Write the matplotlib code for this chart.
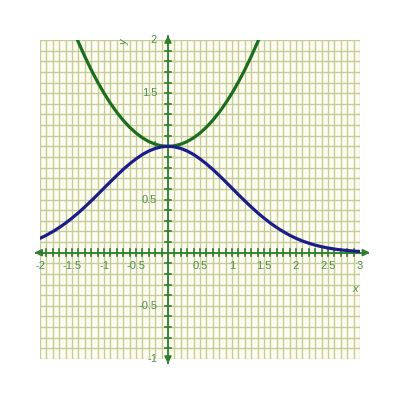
import numpy as np
import matplotlib
matplotlib.use("Agg")
import matplotlib.pyplot as plt

plt.rcParams['font.family'] = ['Liberation Sans', 'DejaVu Sans']

# Blue curve
blue_x = [-2.0, -1.9, -1.8, -1.7, -1.6, -1.5, -1.4, -1.3, -1.2, -1.1, -1.0,
          -0.9, -0.8, -0.7, -0.6, -0.5, -0.4, -0.3, -0.2, -0.1, 0.0,
          0.1, 0.2, 0.3, 0.4, 0.5, 0.6, 0.7, 0.8, 0.9, 1.0,
          1.1, 1.2, 1.3, 1.4, 1.5, 1.6, 1.7, 1.8, 1.9, 2.0,
          2.1, 2.2, 2.3, 2.4, 2.5, 2.6, 2.7, 2.8, 2.9, 3.0]
blue_y = [0.135, 0.164, 0.198, 0.236, 0.278, 0.325, 0.375, 0.430, 0.487, 0.546, 0.607,
          0.667, 0.726, 0.783, 0.835, 0.882, 0.923, 0.956, 0.980, 0.995, 1.000,
          0.995, 0.980, 0.956, 0.923, 0.882, 0.835, 0.783, 0.726, 0.667, 0.607,
          0.546, 0.487, 0.430, 0.375, 0.325, 0.278, 0.236, 0.198, 0.164, 0.135,
          0.110, 0.089, 0.071, 0.056, 0.044, 0.034, 0.026, 0.020, 0.015, 0.011]

# Green curve
green_x = [-1.42, -1.4, -1.3, -1.2, -1.1, -1.0, -0.9, -0.8, -0.7, -0.6, -0.5, -0.4, -0.3, -0.2, -0.1, 0.0,
           0.1, 0.2, 0.3, 0.4, 0.5, 0.6, 0.7, 0.8, 0.9, 1.0, 1.1, 1.2, 1.3, 1.4, 1.42]
green_y = [2.008, 1.98, 1.845, 1.72, 1.605, 1.5, 1.405, 1.32, 1.245, 1.18, 1.125, 1.08, 1.045, 1.02, 1.005, 1.0,
           1.005, 1.02, 1.045, 1.08, 1.125, 1.18, 1.245, 1.32, 1.405, 1.5, 1.605, 1.72, 1.845, 1.98, 2.008]

x_ticks = [-2, -1.5, -1, -0.5, 0.5, 1, 1.5, 2, 2.5, 3]
x_tick_labels = ["-2", "-1.5", "-1", "-0.5", "0.5", "1", "1.5", "2", "2.5", "3"]
y_ticks = [-1, -0.5, 0.5, 1, 1.5, 2]
y_tick_labels = ["-1", "-0.5", "0.5", "1", "1.5", "2"]

XMIN, XMAX, YMIN, YMAX = -2, 3, -1, 2

grid_c = '#c6cc98'
axis_c = '#2f7d2f'
label_c = '#4f8f4f'

fig = plt.figure(figsize=(4, 4), dpi=100)
ax = fig.add_axes([0.1, 0.1025, 0.8, 0.7975])
ax.set_facecolor('#fdfdf2')
ax.set_xlim(XMIN, XMAX)
ax.set_ylim(YMIN, YMAX)
for s in ax.spines.values():
    s.set_visible(False)
ax.set_xticks([])
ax.set_yticks([])

# grid every 0.1
for gx in np.arange(XMIN, XMAX + 0.001, 0.1):
    ax.axvline(gx, color=grid_c, lw=1.0, zorder=1)
for gy in np.arange(YMIN, YMAX + 0.001, 0.1):
    ax.axhline(gy, color=grid_c, lw=1.0, zorder=1)

# axes with arrows
ax.plot([XMIN - 0.06, XMAX + 0.12], [0, 0], color=axis_c, lw=1.3, clip_on=False, zorder=3)
ax.plot([0, 0], [YMIN - 0.04, YMAX + 0.04], color=axis_c, lw=1.3, clip_on=False, zorder=3)
ax.annotate('', xy=(XMAX + 0.2, 0), xytext=(XMAX + 0.05, 0),
            arrowprops=dict(arrowstyle='-|>', color=axis_c, lw=1.3, mutation_scale=10),
            annotation_clip=False, zorder=3)
ax.annotate('', xy=(XMIN - 0.13, 0), xytext=(XMIN + 0.02, 0),
            arrowprops=dict(arrowstyle='-|>', color=axis_c, lw=1.3, mutation_scale=10),
            annotation_clip=False, zorder=3)
ax.annotate('', xy=(0, YMAX + 0.07), xytext=(0, YMAX - 0.02),
            arrowprops=dict(arrowstyle='-|>', color=axis_c, lw=1.3, mutation_scale=10),
            annotation_clip=False, zorder=3)
ax.annotate('', xy=(0, YMIN - 0.07), xytext=(0, YMIN + 0.02),
            arrowprops=dict(arrowstyle='-|>', color=axis_c, lw=1.3, mutation_scale=10),
            annotation_clip=False, zorder=3)

# small tick marks along axes every 0.1
for tx in np.arange(XMIN + 0.1, XMAX - 0.05, 0.1):
    if abs(tx) > 1e-6:
        ax.plot([tx, tx], [-0.03, 0.03], color=axis_c, lw=1.2, zorder=3)
for ty in np.arange(YMIN + 0.1, YMAX - 0.05, 0.1):
    if abs(ty) > 1e-6:
        ax.plot([-0.05, 0.05], [ty, ty], color=axis_c, lw=1.2, zorder=3)

# tick labels
for v, t in zip(x_ticks, x_tick_labels):
    ax.text(v, -0.13, t, color=label_c, fontsize=8, ha='center', va='center', zorder=2)
for v, t in zip(y_ticks, y_tick_labels):
    ax.text(-0.17, v, t, color=label_c, fontsize=8, ha='right', va='center', zorder=2)

ax.text(2.92, -0.34, 'x', color=label_c, fontsize=8, ha='center', va='center', style='italic')
ax.text(-0.68, 1.98, 'y', color=label_c, fontsize=8, ha='center', va='center', style='italic', rotation=90)

# curves
ax.plot(green_x, green_y, color='#1b6e1b', lw=2.3, zorder=4, solid_capstyle='round')
ax.plot(blue_x, blue_y, color='#1c1c8a', lw=2.3, zorder=5, solid_capstyle='round')

fig.savefig('out.png', dpi=100)
